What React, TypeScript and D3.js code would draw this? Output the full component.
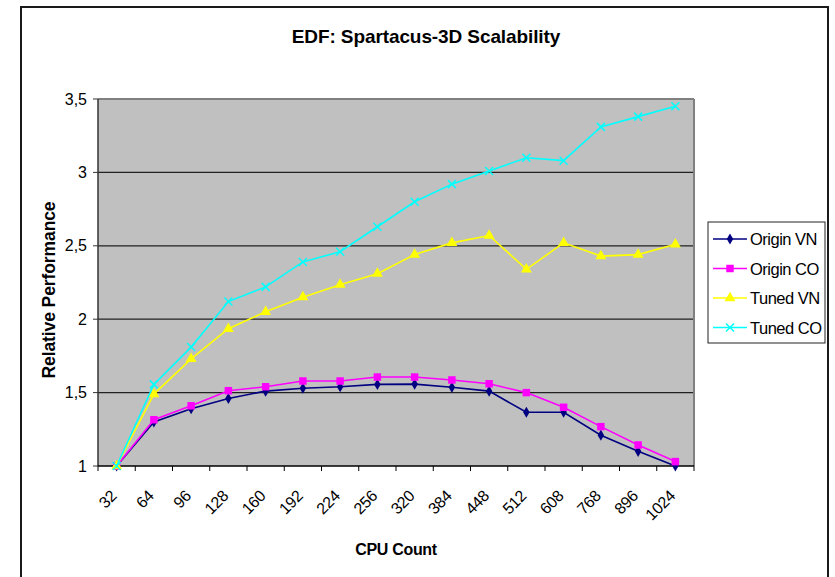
import React from "react";
import * as d3 from "d3";

const categories = ["32", "64", "96", "128", "160", "192", "224", "256", "320", "384", "448", "512", "608", "768", "896", "1024"];

const originVN = [1.0, 1.3, 1.39, 1.46, 1.51, 1.53, 1.54, 1.556, 1.558, 1.536, 1.51, 1.366, 1.366, 1.21, 1.1, 1.0];
const originCO = [1.0, 1.315, 1.41, 1.513, 1.54, 1.579, 1.579, 1.606, 1.606, 1.586, 1.56, 1.5, 1.4, 1.268, 1.143, 1.03];
const tunedVN = [1.0, 1.49, 1.73, 1.935, 2.05, 2.15, 2.235, 2.31, 2.44, 2.52, 2.57, 2.34, 2.52, 2.43, 2.44, 2.51];
const tunedCO = [1.0, 1.556, 1.81, 2.12, 2.22, 2.39, 2.46, 2.63, 2.8, 2.92, 3.01, 3.1, 3.08, 3.31, 3.38, 3.45];

const yTicks = [1, 1.5, 2, 2.5, 3, 3.5];

const seriesNames = ["Origin VN", "Origin CO", "Tuned VN", "Tuned CO"];

type Marker = "diamond" | "square" | "triangle" | "x";

const series: { name: string; values: number[]; color: string; marker: Marker }[] = [
  { name: seriesNames[0], values: originVN, color: "#000080", marker: "diamond" },
  { name: seriesNames[1], values: originCO, color: "#ff00ff", marker: "square" },
  { name: seriesNames[2], values: tunedVN, color: "#ffff00", marker: "triangle" },
  { name: seriesNames[3], values: tunedCO, color: "#00ffff", marker: "x" },
];

const W = 835;
const H = 577;
const plot = { left: 98, right: 694, top: 99, bottom: 466 };
const FONT = "'Liberation Sans', Arial, Helvetica, sans-serif";

const x = d3.scaleBand<string>().domain(categories).range([plot.left, plot.right]).padding(0);
const y = d3.scaleLinear().domain([1, 3.5]).range([plot.bottom, plot.top]);
const cx = (c: string) => (x(c) ?? 0) + x.bandwidth() / 2;

function markerShape(kind: Marker, color: string, px: number, py: number, key?: string) {
  if (kind === "x") {
    const r = 4;
    return (
      <path
        key={key}
        d={`M${px - r},${py - r}L${px + r},${py + r}M${px - r},${py + r}L${px + r},${py - r}`}
        stroke={color}
        strokeWidth={1.5}
        fill="none"
      />
    );
  }
  const sym =
    kind === "diamond" ? d3.symbolDiamond : kind === "square" ? d3.symbolSquare : d3.symbolTriangle;
  const size = kind === "diamond" ? 36 : kind === "square" ? 56 : 52;
  const d = d3.symbol().type(sym).size(size)() ?? "";
  return <path key={key} d={d} transform={`translate(${px},${py})`} fill={color} stroke="none" />;
}

export default function App() {
  const line = d3
    .line<number>()
    .x((_, i) => cx(categories[i]))
    .y((v) => y(v));

  const legend = { x: 708, y: 222, w: 117, h: 121 };

  return (
    <div style={{ position: "fixed", left: 0, top: 0 }}>
      <svg width={W} height={H} style={{ display: "block", background: "#fff" }} fontFamily={FONT}>
        {/* chart frame */}
        <rect x={21} y={7} width={807} height={H} fill="#fff" stroke="#1a1a1a" strokeWidth={2} />

        <text x={426} y={43} textAnchor="middle" fontSize={19} fontWeight="bold" letterSpacing={-0.1}>
          EDF: Spartacus-3D Scalability
        </text>

        {/* plot area */}
        <rect x={plot.left} y={plot.top} width={plot.right - plot.left} height={plot.bottom - plot.top} fill="#c0c0c0" />
        {yTicks
          .filter((t) => t > 1 && t < 3.5)
          .map((t) => (
            <line key={t} x1={plot.left} x2={plot.right} y1={y(t)} y2={y(t)} stroke="#222" strokeWidth={1.2} />
          ))}
        <line x1={plot.left} x2={plot.right} y1={plot.top} y2={plot.top} stroke="#808080" strokeWidth={2} />
        <line x1={plot.right} x2={plot.right} y1={plot.top} y2={plot.bottom} stroke="#808080" strokeWidth={2} />

        {/* y axis */}
        <line x1={plot.left} x2={plot.left} y1={plot.top} y2={plot.bottom} stroke="#333" strokeWidth={1.5} />
        {yTicks.map((t) => (
          <g key={t}>
            <line x1={plot.left - 5} x2={plot.left} y1={y(t)} y2={y(t)} stroke="#333" strokeWidth={1} />
            <text x={87} y={y(t) + 5.5} textAnchor="end" fontSize={16}>
              {String(t).replace(".", ",")}
            </text>
          </g>
        ))}
        <text
          transform={`translate(55,290) rotate(-90)`}
          textAnchor="middle"
          fontSize={17.5}
          fontWeight="bold"
          letterSpacing={-0.1}
        >
          Relative Performance
        </text>

        {/* x axis */}
        <line x1={plot.left} x2={plot.right} y1={plot.bottom} y2={plot.bottom} stroke="#000" strokeWidth={1.5} />
        {categories.map((c) => (
          <line key={"t" + c} x1={x(c) ?? 0} x2={x(c) ?? 0} y1={plot.bottom} y2={plot.bottom + 5} stroke="#000" />
        ))}
        <line x1={plot.right} x2={plot.right} y1={plot.bottom} y2={plot.bottom + 5} stroke="#000" />
        {categories.map((c) => (
          <text
            key={"l" + c}
            transform={`translate(${cx(c) + 1},${plot.bottom + 31}) rotate(-45)`}
            textAnchor="end"
            fontSize={16}
            letterSpacing={-0.3}
          >
            {c}
          </text>
        ))}
        <text x={396} y={555} textAnchor="middle" fontSize={16} fontWeight="bold" letterSpacing={-0.3}>
          CPU Count
        </text>

        {/* series */}
        {series.map((s) => (
          <g key={s.name}>
            <path d={line(s.values) ?? ""} fill="none" stroke={s.color} strokeWidth={1.6} />
            {s.values.map((v, i) => markerShape(s.marker, s.color, cx(categories[i]), y(v), s.name + i))}
          </g>
        ))}

        {/* legend */}
        <rect x={legend.x} y={legend.y} width={legend.w} height={legend.h} fill="#fff" stroke="#222" strokeWidth={1} />
        {series.map((s, i) => {
          const ly = 239 + i * 29.5;
          return (
            <g key={"lg" + s.name}>
              <line x1={713} x2={747} y1={ly} y2={ly} stroke={s.color} strokeWidth={1.6} />
              {markerShape(s.marker, s.color, 730, ly)}
              <text x={750} y={ly + 6} fontSize={16.5} letterSpacing={-0.5}>
                {s.name}
              </text>
            </g>
          );
        })}
      </svg>
    </div>
  );
}
